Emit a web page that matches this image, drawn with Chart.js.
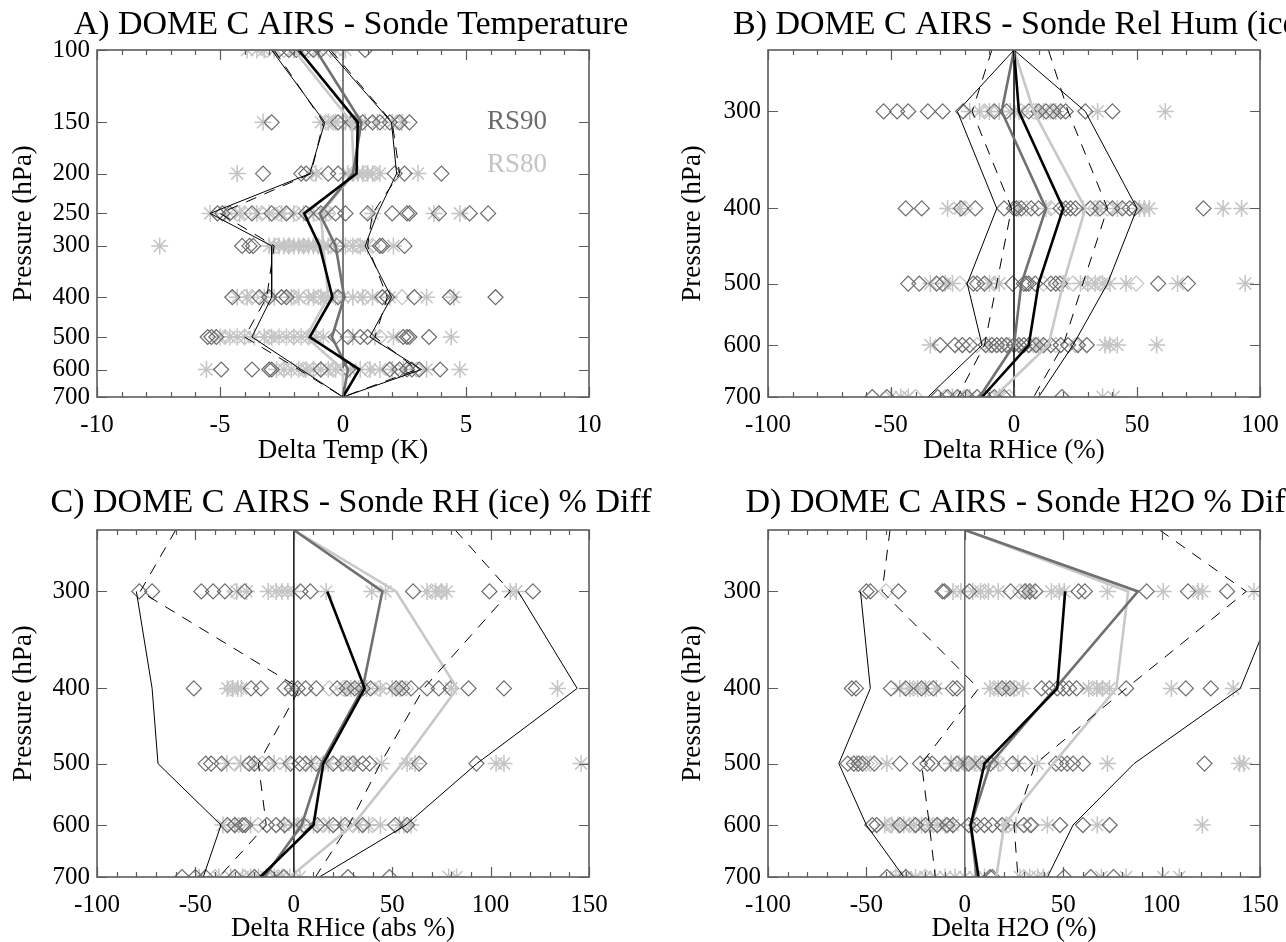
<!DOCTYPE html>
<html>
<head>
<meta charset="utf-8">
<title>DOME C AIRS - Sonde comparisons</title>
<script src="https://cdn.jsdelivr.net/npm/chart.js@4.4.1/dist/chart.umd.min.js"></script>
<style>
    html, body { margin: 0; padding: 0; background: #fff; overflow: hidden; }
    #page { position: relative; width: 1286px; height: 942px; overflow: hidden; }
    .panel { position: absolute; }
    #panelA { left: 0; top: 0; }
    #panelB { left: 643px; top: 0; }
    #panelC { left: 0; top: 470px; }
    #panelD { left: 643px; top: 470px; }
</style>
</head>
<body>
<div id="page">
<canvas id="panelA" class="panel" width="702" height="470"></canvas>
<canvas id="panelB" class="panel" width="756" height="470"></canvas>
<canvas id="panelC" class="panel" width="702" height="472"></canvas>
<canvas id="panelD" class="panel" width="756" height="472"></canvas>
</div>
<script>
// ---- Panel A: temperature (K) ----
const levelsA = [100, 150, 200, 250, 300, 400, 500, 600];
const lineLevelsA = [100, 150, 200, 250, 300, 400, 500, 600, 700];
const yTicksA = [100, 150, 200, 250, 300, 400, 500, 600, 700];
const rs90DiamondsA = [
    [-2.6, -2.2, -1.9, -1.6, -1.2, -0.9, 0.9],
    [-2.9, -0.2, 0.4, 0.8, 1.2, 1.5, 1.9, 2.3, 2.7],
    [-3.25, -1.7, -1.5, -0.6, -0.2, 2.1, 2.5, 4.0],
    [-5.1, -4.9, -4.6, -3.7, -2.9, -2.3, -1.5, -0.9, -0.3, 0.1, 1.0, 2.0, 2.6, 2.7, 3.9, 5.15, 5.9],
    [-4.1, -3.8, -3.65, -0.25, 1.5, 1.6, 2.5],
    [-4.5, -3.4, -3.0, -2.5, -2.3, -0.2, 1.6, 1.8, 2.9, 4.35, 6.2],
    [-5.5, -5.35, -5.15, -0.3, 0.2, 0.7, 1.0, 2.45, 2.6, 2.7, 3.5],
    [-4.95, -3.7, -3.0, -2.9, -0.9, 0.2, 1.9, 2.3, 2.6, 2.8, 3.1, 3.95]
];
const rs80DiamondsA = [
    [-3.1, -2.4, -1.4, -0.5],
    [-0.7, -0.4, 0.0, 0.6, 1.7, 2.2],
    [-1.2, 0.4, 0.9, 1.3],
    [-4.3, -4.0, -3.3, -2.6, -1.9, -1.1, -0.6],
    [-2.7, -2.2, -1.6, -1.0, -0.5, 0.6, 1.2],
    [-4.0, -3.7, -2.0, -1.5, -1.0, -0.6, 0.9, 2.4],
    [-4.8, -4.0, -3.0, -2.0, -1.4, 1.5],
    [-2.4, -1.6, -1.2, -0.4, 1.0, 3.0]
];
const rs80StarsA = [
    [-3.9, -3.5, -3.2, -2.8, -2.0, -1.0, -0.3, 0.1],
    [-3.25, -0.9, -0.6, -0.3, 0.1, 0.3, 0.5, 0.9, 1.4, 2.0, 2.4],
    [-4.3, -1.1, 0.2, 0.4, 0.6, 0.8, 1.0, 1.2, 1.5, 3.05],
    [-5.4, -4.8, -4.2, -3.5, -3.0, -2.5, -2.0, -1.6, -1.2, -0.7, 1.2, 3.7, 4.75],
    [-7.45, -3.0, -2.8, -2.6, -2.4, -2.2, -2.0, -1.8, -1.6, -1.4, -1.2, -1.0, -0.8, -0.6, -0.3, 0.1, 0.4, 0.7, 1.0, 2.05],
    [-4.3, -3.9, -3.2, -2.8, -2.1, -1.8, -1.4, -1.2, -0.9, -0.6, -0.3, 0.0, 0.4, 0.8, 1.2, 1.9, 3.4, 4.5],
    [-5.0, -4.6, -4.3, -4.0, -3.6, -3.2, -2.9, -2.6, -2.3, -2.0, -1.7, -1.4, -1.1, -0.8, 0.4, 1.3, 2.05, 4.4],
    [-5.55, -2.7, -2.4, -2.1, -1.8, -1.5, -1.2, -0.9, -0.6, -0.3, 0.3, 0.7, 1.1, 1.5, 2.0, 2.45, 3.4, 4.75]
];
const meanAllA = [-1.8, 0.6, 0.55, -1.58, -0.95, -0.43, -1.35, 0.66, 0];
const meanRS90A = [-1.1, 0.75, 0.4, -0.95, -0.3, 0.05, -0.45, 0.2, 0];
const meanRS80A = [-2.0, 0.35, 0.45, -0.9, -0.8, -0.6, -1.5, 0.0, 0];
const sdLoA = [-2.9, -0.74, -1.35, -5.4, -2.9, -2.9, -3.7, -1.7, 0];
const sdHiA = [-0.6, 1.97, 2.18, 1.4, 0.9, 1.97, 1.09, 3.19, 0];
const dashLoA = [-2.8, -0.8, -1.3, -5.0, -2.8, -3.1, -4.0, -1.8, 0];
const dashHiA = [-0.5, 2.0, 2.3, 1.2, 1.0, 1.8, 1.3, 3.0, 0];
const legendLabels = ['RS90', 'RS80'];

// ---- Panel B: relative humidity over ice (%) ----
const levelsB = [300, 400, 500, 600, 700];
const lineLevelsB = [250, 300, 400, 500, 600, 700];
const yTicksB = [300, 400, 500, 600, 700];
const rs90DiamondsB = [
    [-53, -47.5, -43, -35, -29, -20.7, -8, -3, 6, 10, 13, 16, 19, 21, 29, 40],
    [-44, -37.5, -21.5, -15.7, -4, 0, 1, 3, 7, 10, 19, 21, 23, 25, 31, 35, 40, 44, 47, 49, 77],
    [-43, -38.5, -31.5, -29, -16.5, -15, -12, -0.6, 4, 5, 6, 8.6, 15, 17, 18.7, 58.6, 70.7],
    [-30, -24, -21, -18, -11.5, -9, -7, -5, -3, 0, 2, 4, 6, 9, 12, 15, 19, 22, 26, 29.6],
    [-57.6, -51.7, -31, -27, -23, -19, -15, -12, -8, -4, 19.5]
];
const rs80DiamondsB = [
    [-12, 3, 8, 15],
    [-20, 5, 15, 33, 38],
    [-22, -8, 12, 24, 30, 35, 49.7],
    [-15, -2, 8, 17, 25],
    [-40, -28, -20, -10, -2]
];
const rs80StarsB = [
    [-18, -14, -10, -6, -1.5, 2, 9, 12, 17, 34, 61.5],
    [-27, -22, 2, 13, 28, 34, 42, 51, 53, 55, 85, 92.5],
    [-34, -28, -25, -10, -6, 20, 27, 30, 33, 36, 39, 45.5, 66.5, 94],
    [-34, -10, 0, 10, 37, 39, 42, 58],
    [-50, -46, -43, -25, -18, -6, 36, 40.5]
];
const meanAllB = [0, 2, 20, 10, 6, -13];
const meanRS90B = [0, -5, 13, 3, 0, -14];
const meanRS80B = [0, 8, 29, 20, 14, -8];
const sdLoB = [0, -23, -7, -19, -13, -35];
const sdHiB = [0, 29, 50, 38, 24, 10];
const dashLoB = [-9, -17, -1, -7, -12, -23];
const dashHiB = [14, 22, 38, 28, 20, 8];

// ---- Panel C: RH (ice) difference (abs %) ----
const levelsC = [300, 400, 500, 600, 700];
const lineLevelsC = [250, 300, 400, 500, 600, 700];
const yTicksC = [300, 400, 500, 600, 700];
const rs90DiamondsC = [
    [-78.5, -72, -47, -41, -35, -25, 3.4, 8.4, 60.6, 99.4, 121.5],
    [-50.8, -21.7, -16.7, -4.6, -1, 2, 6, 11.4, 22, 27, 31, 35, 39, 52, 55, 59.6, 67.7, 73.7, 79.7, 88.8, 106.8],
    [-44.8, -42, -36.7, -22.7, -20, -12.7, -1.6, 3, 6, 11.4, 20, 25, 30, 35, 38.5, 63.7, 92.8],
    [-33.7, -30, -26, -24.7, -13.7, -9, -4.6, 5, 12, 20, 26, 35, 51.6, 57.6],
    [-56.8, -50, -44.8, -30, -20, -12, -5, 27.5, 48.6]
];
const rs80DiamondsC = [
    [-30, 70, 75],
    [-32, 18, 25, 43, 57],
    [-30, -16, 15, 28],
    [-28, -18, 2, 15, 30, 40],
    [-40, -25, -8]
];
const rs80StarsC = [
    [-29, -24, -13, -9, -6, -3, 0, 16.5, 39.6, 46.6, 67.7, 72, 75, 77.7, 110, 113],
    [-33.7, -31, -28.5, -26.7, 0, 26, 29, 33, 37, 44, 50, 54, 80, 134],
    [-34, -27, -20, -10, -4, 9, 17.5, 24, 31, 44.6, 57.6, 61.6, 102.8, 106.8, 146],
    [-36, -30, -22, -5, 0, 4, 10, 18, 24, 33, 38, 44, 53.6, 56, 59.6],
    [-48, -38, -32, -26, -22, -18, -14, -10, -6, -2, 3, 78.7, 82.7]
];
const meanAllC = [null, 17, 36, 15, 10, -17];
const meanRS90C = [0, 45, 35, 14, 4, -15];
const meanRS80C = [0, 52, 83, 55, 30, -2];
const sdLoC = [null, -80, -72, -69, -37, -46];
const sdHiC = [null, 114, 144, 93, 57, 13];
const dashLoC = [-60, -78, 3, -18, -14, -38];
const dashHiC = [82, 110, 66, 44, 28, 11];

// ---- Panel D: H2O difference (%) ----
const levelsD = [300, 400, 500, 600, 700];
const lineLevelsD = [250, 300, 400, 500, 600, 700];
const yTicksD = [300, 400, 500, 600, 700];
const rs90DiamondsD = [
    [-50, -48, -33.7, -11.3, -10.3, 2.3, 23.3, 30.6, 33, 35.8, 57.8, 61, 92.4, 113.4, 133.3],
    [-57.4, -55.3, -37.5, -30, -22, -16, -6, -4, 19, 23, 39, 43, 47, 50, 53, 56.8, 82, 112.3, 125],
    [-59.5, -56.4, -54, -52, -46, -32.9, -22.8, -19, -16.6, -10, -4, 2, 9, 13, 24.3, 30.6, 46.3, 49, 52, 55, 60, 121.8],
    [-47, -44.8, -33, -25, -20, -14, -9, -6, 2, 6, 10, 14, 19, 30, 33.7, 48.4, 60, 73.6],
    [-39.6, -30, 12.8, 14, 50.5, 64, 75.6]
];
const rs80DiamondsD = [
    [-40, 10, 28],
    [-26, -18, 15, 26, 65, 70],
    [-50, -48, 0, 6, 18],
    [-38, -28, -16, 22, 33],
    [-35, -20, 30]
];
const rs80StarsD = [
    [-6, -2, 4, 8, 12, 17, 31, 33, 44, 48, 50.5, 72.5, 100.8, 118.6, 120.7, 147],
    [-33, -28, -24, -20, -14.5, 12.8, 17, 21, 25, 29.5, 63, 67, 70, 73.5, 105, 136.4],
    [-55, -39.6, -7, -3, 1, 5, 8, 12, 17, 27, 36.9, 72.5, 139.6, 141.7],
    [-40.7, -37, -34, -31, -26, -22, -18, -14, -10, -6, 4, 21, 26, 42, 67.3, 120.7],
    [-35, -30, -25, -20, -15, -10, -5, 0, 5, 10, 28, 33, 37, 40, 69.4, 82, 100.8, 109]
];
const meanAllD = [null, 51, 47, 10, 3, 7];
const meanRS90D = [0, 88, 46, 13, 3, 6];
const meanRS80D = [0, 83, 77, 45, 20, 16];
const sdLoD = [null, -53, -48, -64, -50, -31];
const sdHiD = [null, 160, 140, 86, 55, 42];
const dashLoD = [-38, -42, 7, -22, -18, -15];
const dashHiD = [99, 143, 82, 36, 25, 27];

const DARK = '#6c6c6c';
const LIGHT = '#c4c4c4';
const SERIF = "'Liberation Serif', 'DejaVu Serif', serif";

Chart.defaults.font.family = SERIF;
Chart.defaults.color = '#000';

// IDL-like box with inward tick marks on all four sides
const idlFrame = {
    id: 'idlFrame',
    afterDatasetsDraw(chart, args, opts) {
        const { ctx, chartArea: a, scales: { x, y } } = chart;
        ctx.save();
        ctx.strokeStyle = '#5c5c5c';
        ctx.lineWidth = 1.6;
        ctx.strokeRect(a.left, a.top, a.right - a.left, a.bottom - a.top);
        ctx.beginPath();
        for (let v = x.min; v <= x.max; v += opts.minor) {
            const px = Math.round(x.getPixelForValue(v)) + 0.5;
            const len = Math.round(v) % opts.major === 0 ? 10 : 5;
            ctx.moveTo(px, a.bottom);
            ctx.lineTo(px, a.bottom - len);
            ctx.moveTo(px, a.top);
            ctx.lineTo(px, a.top + len);
        }
        y.ticks.forEach(t => {
            const py = Math.round(y.getPixelForValue(t.value)) + 0.5;
            ctx.moveTo(a.left, py);
            ctx.lineTo(a.left + 10, py);
            ctx.moveTo(a.right, py);
            ctx.lineTo(a.right - 10, py);
        });
        ctx.lineWidth = 1.2;
        ctx.stroke();
        ctx.restore();
    }
};

// RS90 / RS80 labels inside panel A
const rsLabels = {
    id: 'rsLabels',
    afterDatasetsDraw(chart, args, opts) {
        if (!opts.show) return;
        const { ctx, chartArea: a, scales: { y } } = chart;
        ctx.save();
        ctx.font = '27px ' + SERIF;
        ctx.textAlign = 'right';
        ctx.textBaseline = 'middle';
        ctx.fillStyle = DARK;
        ctx.fillText(legendLabels[0], a.right - 42, y.getPixelForValue(150));
        ctx.fillStyle = LIGHT;
        ctx.fillText(legendLabels[1], a.right - 42, y.getPixelForValue(190));
        ctx.restore();
    }
};

function scatterSet(levels, rows, style, order) {
    const pts = [];
    rows.forEach((row, i) => row.forEach(v => pts.push({ x: v, y: levels[i] })));
    return Object.assign({ data: pts, showLine: false, order: order }, style);
}

function profile(levels, values, style, order) {
    const pts = [];
    values.forEach((v, i) => {
        if (v !== null) pts.push({ x: v, y: levels[i] });
    });
    return Object.assign({ data: pts, showLine: true, pointRadius: 0, tension: 0, order: order }, style);
}

const diamondDark = { pointStyle: 'rectRot', pointRadius: 7.5, borderColor: DARK, backgroundColor: 'rgba(0,0,0,0)', borderWidth: 1.2 };
const diamondLight = { pointStyle: 'rectRot', pointRadius: 7.5, borderColor: LIGHT, backgroundColor: 'rgba(0,0,0,0)', borderWidth: 1.2 };
const starLight = { pointStyle: 'star', pointRadius: 8.5, borderColor: LIGHT, backgroundColor: LIGHT, borderWidth: 1.5 };

function makePanel(id, p) {
    const datasets = [
        scatterSet(p.levels, p.stars, starLight, 9),
        scatterSet(p.levels, p.lightDiamonds, diamondLight, 8),
        scatterSet(p.levels, p.darkDiamonds, diamondDark, 7),
        { data: [{ x: 0, y: p.yMin }, { x: 0, y: 700 }], showLine: true, pointRadius: 0,
          borderColor: p.zeroColor, borderWidth: p.zeroWidth, order: 6 },
        profile(p.lineLevels, p.meanRS80, { borderColor: '#c8c8c8', borderWidth: 2.6 }, 5),
        profile(p.lineLevels, p.meanRS90, { borderColor: '#707070', borderWidth: 2.6 }, 4),
        profile(p.lineLevels, p.sdLo, { borderColor: '#000', borderWidth: 1 }, 3),
        profile(p.lineLevels, p.sdHi, { borderColor: '#000', borderWidth: 1 }, 3),
        profile(p.lineLevels, p.dashLo, { borderColor: '#000', borderWidth: 1, borderDash: [11, 9] }, 3),
        profile(p.lineLevels, p.dashHi, { borderColor: '#000', borderWidth: 1, borderDash: [11, 9] }, 3),
        profile(p.lineLevels, p.meanAll, { borderColor: '#000', borderWidth: 2.6 }, 2)
    ];

    return new Chart(document.getElementById(id), {
        type: 'scatter',
        data: { datasets: datasets },
        options: {
            responsive: false,
            animation: false,
            events: [],
            layout: { padding: 0 },
            plugins: {
                legend: { display: false },
                tooltip: { enabled: false },
                title: {
                    display: true,
                    text: p.title,
                    color: '#000',
                    font: { size: 34, weight: 'normal', lineHeight: 1.2 },
                    padding: p.titlePad
                },
                idlFrame: { minor: p.xMinor, major: p.xStep },
                rsLabels: { show: !!p.legend }
            },
            scales: {
                x: {
                    type: 'linear',
                    min: p.xMin,
                    max: p.xMax,
                    afterFit: s => { s.height = p.xAxisHeight; },
                    grid: { display: false, drawTicks: false },
                    border: { display: false },
                    ticks: { stepSize: p.xStep, padding: 13, color: '#000', font: { size: 25 } },
                    title: {
                        display: true,
                        text: p.xTitle,
                        color: '#000',
                        font: { size: 27, lineHeight: 1 },
                        padding: { top: 0, bottom: p.xTitleBottom }
                    }
                },
                y: {
                    type: 'logarithmic',
                    reverse: true,
                    min: p.yMin,
                    max: 700,
                    afterBuildTicks: s => { s.ticks = p.yTicks.map(v => ({ value: v })); },
                    afterFit: s => { s.width = p.yAxisWidth; },
                    grid: { display: false, drawTicks: false },
                    border: { display: false },
                    ticks: { padding: 7, color: '#000', font: { size: 25 }, callback: v => String(v) },
                    title: {
                        display: true,
                        text: 'Pressure (hPa)',
                        color: '#000',
                        font: { size: 27, lineHeight: 1 },
                        padding: { top: p.yTitleTop, bottom: 0 }
                    }
                },
                // empty right-hand box: keeps the plot narrow while the title stays centred on a wider band
                spacer: {
                    type: 'linear',
                    position: 'right',
                    afterFit: s => { s.width = p.rightSpace; },
                    grid: { display: false, drawTicks: false },
                    border: { display: false },
                    ticks: { display: false }
                }
            }
        },
        plugins: [idlFrame, rsLabels]
    });
}

makePanel('panelA', {
    title: 'A) DOME C AIRS - Sonde Temperature', xTitle: 'Delta Temp (K)',
    xMin: -10, xMax: 10, xStep: 5, xMinor: 1, yMin: 100, yTicks: yTicksA,
    levels: levelsA, darkDiamonds: rs90DiamondsA, lightDiamonds: rs80DiamondsA, stars: rs80StarsA,
    lineLevels: lineLevelsA, meanAll: meanAllA, meanRS90: meanRS90A, meanRS80: meanRS80A,
    sdLo: sdLoA, sdHi: sdHiA, dashLo: dashLoA, dashHi: dashHiA,
    zeroColor: '#606060', zeroWidth: 1.6, legend: true,
    yAxisWidth: 97, rightSpace: 113, xAxisHeight: 73, titlePad: { top: 5, bottom: 4.2 },
    yTitleTop: 10, xTitleBottom: 6
});

makePanel('panelB', {
    title: 'B) DOME C AIRS - Sonde Rel Hum (ice)', xTitle: 'Delta RHice (%)',
    xMin: -100, xMax: 100, xStep: 50, xMinor: 10, yMin: 250, yTicks: yTicksB,
    levels: levelsB, darkDiamonds: rs90DiamondsB, lightDiamonds: rs80DiamondsB, stars: rs80StarsB,
    lineLevels: lineLevelsB, meanAll: meanAllB, meanRS90: meanRS90B, meanRS80: meanRS80B,
    sdLo: sdLoB, sdHi: sdHiB, dashLo: dashLoB, dashHi: dashHiB,
    zeroColor: '#222', zeroWidth: 1, legend: false,
    yAxisWidth: 125, rightSpace: 139, xAxisHeight: 73, titlePad: { top: 5, bottom: 4.2 },
    yTitleTop: 36, xTitleBottom: 6
});

makePanel('panelC', {
    title: 'C) DOME C AIRS - Sonde RH (ice) % Diff', xTitle: 'Delta RHice (abs %)',
    xMin: -100, xMax: 150, xStep: 50, xMinor: 10, yMin: 250, yTicks: yTicksC,
    levels: levelsC, darkDiamonds: rs90DiamondsC, lightDiamonds: rs80DiamondsC, stars: rs80StarsC,
    lineLevels: lineLevelsC, meanAll: meanAllC, meanRS90: meanRS90C, meanRS80: meanRS80C,
    sdLo: sdLoC, sdHi: sdHiC, dashLo: dashLoC, dashHi: dashHiC,
    zeroColor: '#222', zeroWidth: 1, legend: false,
    yAxisWidth: 97, rightSpace: 113, xAxisHeight: 65, titlePad: { top: 13, bottom: 6.2 },
    yTitleTop: 10, xTitleBottom: 0
});

makePanel('panelD', {
    title: 'D) DOME C AIRS - Sonde H2O % Diff', xTitle: 'Delta H2O (%)',
    xMin: -100, xMax: 150, xStep: 50, xMinor: 10, yMin: 250, yTicks: yTicksD,
    levels: levelsD, darkDiamonds: rs90DiamondsD, lightDiamonds: rs80DiamondsD, stars: rs80StarsD,
    lineLevels: lineLevelsD, meanAll: meanAllD, meanRS90: meanRS90D, meanRS80: meanRS80D,
    sdLo: sdLoD, sdHi: sdHiD, dashLo: dashLoD, dashHi: dashHiD,
    zeroColor: '#555', zeroWidth: 1.3, legend: false,
    yAxisWidth: 125, rightSpace: 139, xAxisHeight: 65, titlePad: { top: 13, bottom: 6.2 },
    yTitleTop: 36, xTitleBottom: 0
});
</script>
</body>
</html>
